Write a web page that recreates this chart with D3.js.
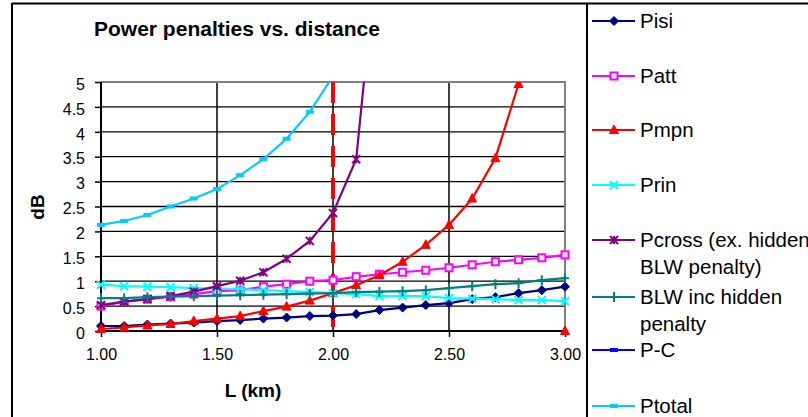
<!DOCTYPE html>
<html>
<head>
<meta charset="utf-8">
<script src="https://cdn.jsdelivr.net/npm/d3@7"></script>
<style>
  html, body { margin: 0; padding: 0; background: #fff; }
  svg { display: block; font-family: "Liberation Sans", Arial, sans-serif; }
</style>
</head>
<body>
<svg id="chart" width="808" height="417"></svg>
<script>
// ---------------- data ----------------
const distances = [1.0, 1.1, 1.2, 1.3, 1.4, 1.5, 1.6, 1.7, 1.8, 1.9, 2.0, 2.1, 2.2, 2.3, 2.4, 2.5, 2.6, 2.7, 2.8, 2.9, 3.0];
const pisi   = [0.10, 0.10, 0.13, 0.15, 0.17, 0.20, 0.22, 0.25, 0.27, 0.30, 0.31, 0.34, 0.42, 0.47, 0.52, 0.56, 0.64, 0.68, 0.76, 0.82, 0.89];
const patt   = [0.50, 0.59, 0.64, 0.69, 0.74, 0.80, 0.82, 0.89, 0.94, 1.00, 1.02, 1.09, 1.14, 1.18, 1.22, 1.27, 1.33, 1.39, 1.43, 1.47, 1.53];
const pmpn   = [0.04, 0.07, 0.11, 0.14, 0.20, 0.25, 0.30, 0.40, 0.49, 0.61, 0.76, 0.92, 1.12, 1.39, 1.73, 2.13, 2.66, 3.47, 4.96, null, 0.00];
const prin   = [0.93, 0.90, 0.89, 0.88, 0.86, 0.85, 0.84, 0.82, 0.80, 0.78, 0.76, 0.74, 0.70, 0.70, 0.70, 0.66, 0.65, 0.64, 0.62, 0.62, 0.60];
const pcross = [0.52, 0.59, 0.64, 0.70, 0.79, 0.90, 1.01, 1.18, 1.45, 1.81, 2.37, 3.45, 8.10, null, null, null, null, null, null, null, null];
const blw    = [0.66, 0.66, 0.68, 0.69, 0.70, 0.71, 0.72, 0.73, 0.74, 0.75, 0.76, 0.78, 0.79, 0.80, 0.82, 0.86, 0.90, 0.94, 0.96, 1.02, 1.06];
const pc     = [null, null, null, null, null, null, null, null, null, null, null, null, null, null, null, null, null, null, null, null, null];
const ptotal = [2.13, 2.21, 2.33, 2.50, 2.66, 2.85, 3.13, 3.45, 3.86, 4.40, 5.12, null, null, null, null, null, null, null, null, null, null];
const limitDistance = 2.0;

const seriesNames = ["Pisi", "Patt", "Pmpn", "Prin", "Pcross (ex. hidden|BLW penalty)", "BLW inc hidden|penalty", "P-C", "Ptotal"];
const seriesValues = [pisi, patt, pmpn, prin, pcross, blw, pc, ptotal];
const seriesColors = ["#000080", "#FF00FF", "#FF0000", "#00FFFF", "#800080", "#008080", "#0000FF", "#00CCFF"];
const seriesMarkers = ["diamond", "squareOpen", "triangle", "x", "star", "plus", "dash", "dash"];

const xTicks = [1.0, 1.5, 2.0, 2.5, 3.0];
const yTicks = [0, 0.5, 1, 1.5, 2, 2.5, 3, 3.5, 4, 4.5, 5];

// ---------------- layout ----------------
const svg = d3.select("#chart");
const plot = { left: 101, right: 565, top: 82, bottom: 331 };
const x = d3.scaleLinear().domain([1, 3]).range([plot.left, plot.right]);
const y = d3.scaleLinear().domain([0, 5]).range([plot.bottom, plot.top]);

// outer frame
svg.append("line").attr("x1", 12).attr("x2", 808).attr("y1", 3.5).attr("y2", 3.5).attr("stroke", "#000").attr("stroke-width", 2);
svg.append("line").attr("x1", 12).attr("x2", 12).attr("y1", 3).attr("y2", 417).attr("stroke", "#000").attr("stroke-width", 2);
svg.append("line").attr("x1", 587).attr("x2", 587).attr("y1", 3).attr("y2", 417).attr("stroke", "#000").attr("stroke-width", 2);

// title
svg.append("text").attr("x", 237).attr("y", 36).attr("text-anchor", "middle")
  .attr("font-size", 21).attr("font-weight", "bold").text("Power penalties vs. distance");

// gridlines
svg.append("g").selectAll("line").data(yTicks.filter(v => v > 0 && v < 5)).join("line")
  .attr("x1", plot.left).attr("x2", plot.right)
  .attr("y1", d => y(d)).attr("y2", d => y(d))
  .attr("stroke", "#000").attr("stroke-width", 1.3);
svg.append("g").selectAll("line").data(xTicks.filter(v => v > 1 && v < 3)).join("line")
  .attr("x1", d => x(d)).attr("x2", d => x(d))
  .attr("y1", plot.top).attr("y2", plot.bottom)
  .attr("stroke", "#000").attr("stroke-width", 1.5);

// plot border (gray top/right)
svg.append("path")
  .attr("d", `M${plot.left},${plot.top}H${plot.right}V${plot.bottom}`)
  .attr("fill", "none").attr("stroke", "#808080").attr("stroke-width", 2);

// axes
const yAxis = d3.axisLeft(y).tickValues(yTicks).tickSize(6).tickPadding(10)
  .tickFormat(d => d3.format("")(d));
const gy = svg.append("g").attr("transform", `translate(${plot.left},0)`).call(yAxis);
const xAxis = d3.axisBottom(x).tickValues(xTicks).tickSize(6).tickPadding(12)
  .tickFormat(d3.format(".2f"));
const gx = svg.append("g").attr("transform", `translate(0,${plot.bottom})`).call(xAxis);
[gx, gy].forEach(g => {
  g.select(".domain").attr("stroke", "#000").attr("stroke-width", 2);
  g.selectAll(".tick line").attr("stroke", "#000").attr("stroke-width", 1.5);
  g.selectAll(".tick text").attr("fill", "#000").attr("font-size", 16)
    .attr("font-family", "'Liberation Sans', Arial, sans-serif");
});
gy.select(".domain").attr("d", `M0,${plot.bottom}V${plot.top}`);
gx.select(".domain").attr("d", `M${plot.left},0H${plot.right}`);
gy.selectAll(".tick text").attr("dy", "0.45em");

// axis titles
svg.append("text").attr("x", 253).attr("y", 397).attr("text-anchor", "middle")
  .attr("font-size", 19).attr("font-weight", "bold").text("L (km)");
svg.append("text").attr("transform", "translate(44,207) rotate(-90)").attr("text-anchor", "middle")
  .attr("font-size", 19).attr("font-weight", "bold").text("dB");

// clip
svg.append("clipPath").attr("id", "plotClip").append("rect")
  .attr("x", plot.left - 5).attr("y", plot.top).attr("width", plot.right - plot.left + 10).attr("height", plot.bottom - plot.top + 6);

// red dashed limit line
svg.append("line")
  .attr("x1", x(limitDistance)).attr("x2", x(limitDistance))
  .attr("y1", y(5)).attr("y2", y(0))
  .attr("stroke", "#FF0000").attr("stroke-width", 4).attr("stroke-dasharray", "21,11");

function drawMarker(g, type, color, cx, cy) {
  switch (type) {
    case "diamond":
      g.append("path").attr("d", `M${cx},${cy-4.5}L${cx+4.5},${cy}L${cx},${cy+4.5}L${cx-4.5},${cy}Z`).attr("fill", color).attr("stroke", color);
      break;
    case "squareOpen":
      g.append("rect").attr("x", cx-3.5).attr("y", cy-3.5).attr("width", 7).attr("height", 7).attr("fill", "#fff").attr("stroke", color).attr("stroke-width", 2);
      break;
    case "triangle":
      g.append("path").attr("d", `M${cx},${cy-5}L${cx+4.5},${cy+3.5}L${cx-4.5},${cy+3.5}Z`).attr("fill", color).attr("stroke", color);
      break;
    case "x":
      g.append("path").attr("d", `M${cx-4},${cy-4}L${cx+4},${cy+4}M${cx-4},${cy+4}L${cx+4},${cy-4}`).attr("stroke", color).attr("stroke-width", 2);
      break;
    case "star":
      g.append("path").attr("d", `M${cx-4},${cy-4}L${cx+4},${cy+4}M${cx-4},${cy+4}L${cx+4},${cy-4}M${cx},${cy-4}V${cy+4}`).attr("stroke", color).attr("stroke-width", 2);
      break;
    case "plus":
      g.append("path").attr("d", `M${cx-4},${cy}H${cx+4}M${cx},${cy-5}V${cy+5}`).attr("stroke", color).attr("stroke-width", 2);
      break;
    case "dash":
      g.append("rect").attr("x", cx-4).attr("y", cy-2).attr("width", 8).attr("height", 4).attr("fill", color);
      break;
  }
}

// series
const layer = svg.append("g").attr("clip-path", "url(#plotClip)");
const line = d3.line().defined(d => d.v !== null).x(d => x(d.x)).y(d => y(d.v));
seriesValues.forEach((vals, i) => {
  const pts = distances.map((dx, j) => ({ x: dx, v: vals[j] }));
  const g = layer.append("g");
  g.append("path").datum(pts).attr("d", line).attr("fill", "none")
    .attr("stroke", seriesColors[i]).attr("stroke-width", 2.2);
  pts.filter(p => p.v !== null && p.v <= 5.05).forEach(p => drawMarker(g, seriesMarkers[i], seriesColors[i], x(p.x), y(p.v)));
});

// legend
const legendY = [21, 76, 130, 185, 240, 297, 350, 406];
const leg = svg.append("g");
seriesNames.forEach((name, i) => {
  const ly = legendY[i];
  leg.append("line").attr("x1", 592).attr("x2", 635).attr("y1", ly).attr("y2", ly)
    .attr("stroke", seriesColors[i]).attr("stroke-width", 2.2);
  drawMarker(leg, seriesMarkers[i], seriesColors[i], 614, ly);
  const lines = name.split("|");
  lines.forEach((t, k) => {
    leg.append("text").attr("x", 640).attr("y", ly + 7 + k * 27).attr("font-size", 20.5).attr("fill", "#000").text(t);
  });
});
</script>
</body>
</html>
